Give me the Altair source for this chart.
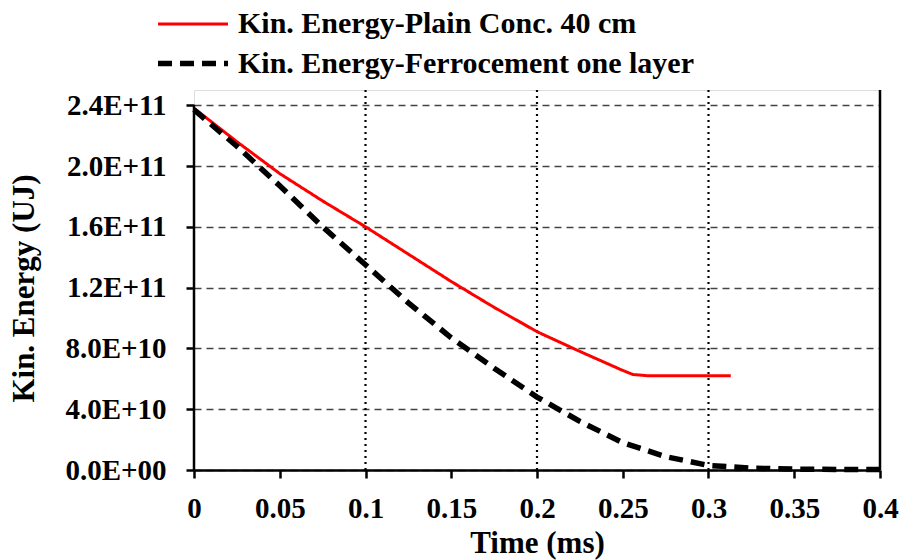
import altair as alt
import pandas as pd

series_names = ["Kin. Energy-Plain Conc. 40 cm", "Kin. Energy-Ferrocement one layer"]

t_plain = [0, 0.025, 0.05, 0.075, 0.1, 0.125, 0.15, 0.175, 0.2, 0.225, 0.25, 0.256, 0.265, 0.29, 0.313]
e_plain = [2.38e11, 2.16e11, 1.95e11, 1.77e11, 1.60e11, 1.42e11, 1.24e11, 1.07e11, 0.91e11,
           0.78e11, 0.655e11, 0.628e11, 0.62e11, 0.62e11, 0.62e11]

t_ferro = [0, 0.025, 0.05, 0.075, 0.1, 0.125, 0.15, 0.175, 0.2, 0.225, 0.25, 0.275, 0.3,
           0.325, 0.35, 0.375, 0.4]
e_ferro = [2.37e11, 2.13e11, 1.87e11, 1.60e11, 1.35e11, 1.10e11, 0.87e11, 0.67e11, 0.48e11,
           0.32e11, 0.18e11, 0.088e11, 0.03e11, 0.012e11, 0.006e11, 0.004e11, 0.003e11]

x_ticks = [0, 0.05, 0.1, 0.15, 0.2, 0.25, 0.3, 0.35, 0.4]
y_ticks = [0, 4e10, 8e10, 1.2e11, 1.6e11, 2.0e11, 2.4e11]
v_grid = [0.1, 0.2, 0.3]

df = pd.concat([
    pd.DataFrame({"t": t_plain, "e": e_plain, "s": series_names[0], "o": 0}),
    pd.DataFrame({"t": t_ferro, "e": e_ferro, "s": series_names[1], "o": 1}),
])

FONT = "Liberation Serif"

xscale = alt.Scale(domain=[0, 0.4], nice=False)
yscale = alt.Scale(domain=[0, 2.5e11], nice=False)

x_axis = alt.Axis(values=x_ticks, format="~g", title="Time (ms)", grid=False, domainColor="black",
                  domainWidth=2.5, tickColor="black", tickWidth=2.5, tickSize=8,
                  labelPadding=16, labelFontSize=29, labelFont=FONT, labelFontWeight="bold",
                  labelColor="black", titleFont=FONT, titleFontSize=31, titleFontWeight="bold",
                  titleColor="black", titleX=343, titleY=82, titleBaseline="alphabetic",
                  labelFlush=False, labelOverlap=False)
y_axis = alt.Axis(values=y_ticks, title="Kin. Energy (UJ)", domain=False, grid=True,
                  gridColor="#444444", gridDash=[7, 5], gridWidth=1.3,
                  tickColor="black", tickWidth=2.5, tickSize=8, labelPadding=20,
                  labelFontSize=29, labelFont=FONT, labelFontWeight="bold", labelColor="black",
                  labelExpr="datum.value == 0 ? '0.0E+00' : upper(format(datum.value, '.1e'))",
                  titleFont=FONT, titleFontSize=31, titleFontWeight="bold", titleColor="black",
                  titleAngle=270, titleX=-161, titleY=198, titleBaseline="alphabetic",
                  titleAlign="center", labelOverlap=False, labelFlush=False)


def make_legend():
    return alt.Legend(title=None, orient="none", legendX=-39, legendY=-85,
                      symbolType="M-1,0H3", symbolSize=1225,
                      labelFont=FONT, labelFontSize=30, labelFontWeight="bold",
                      labelColor="black", labelOffset=42, rowPadding=4,
                      padding=0, labelLimit=600)


base = alt.Chart(df)

grid_v = alt.Chart(pd.DataFrame({"x": v_grid})).mark_rule(
    color="black", strokeDash=[2, 4], strokeWidth=2.2
).encode(x=alt.X("x:Q", scale=xscale, axis=x_axis))

lines = base.mark_line().encode(
    x=alt.X("t:Q", scale=xscale, axis=x_axis),
    y=alt.Y("e:Q", scale=yscale, axis=y_axis),
    color=alt.Color("s:N", scale=alt.Scale(domain=series_names, range=["#ff0000", "#000000"]),
                    legend=make_legend()),
    strokeDash=alt.StrokeDash("s:N", scale=alt.Scale(domain=series_names, range=[[1, 0], [14, 8]]),
                              legend=make_legend()),
    strokeWidth=alt.StrokeWidth("s:N", scale=alt.Scale(domain=series_names, range=[3, 5.5]),
                                legend=make_legend()),
    order="o:Q",
)

left_line = alt.Chart(pd.DataFrame({"x": [0], "y": [0], "y2": [2.4e11]})).mark_rule(
    color="black", strokeWidth=2.5
).encode(x=alt.X("x:Q", scale=xscale), y=alt.Y("y:Q", scale=yscale), y2="y2:Q")

right_line = alt.Chart(pd.DataFrame({"x": [0.4], "y": [0], "y2": [2.5e11]})).mark_rule(
    color="black", strokeWidth=2.5
).encode(x=alt.X("x:Q", scale=xscale), y=alt.Y("y:Q", scale=yscale), y2="y2:Q")

chart = alt.layer(grid_v, lines, left_line, right_line).properties(
    width=686, height=380,
    padding={"left": 194, "top": 90, "right": 21, "bottom": 90},
    autosize="none",
).configure_view(stroke=None).configure(background="white")

chart.save("out.html", embed_options={"renderer": "svg", "actions": False})
